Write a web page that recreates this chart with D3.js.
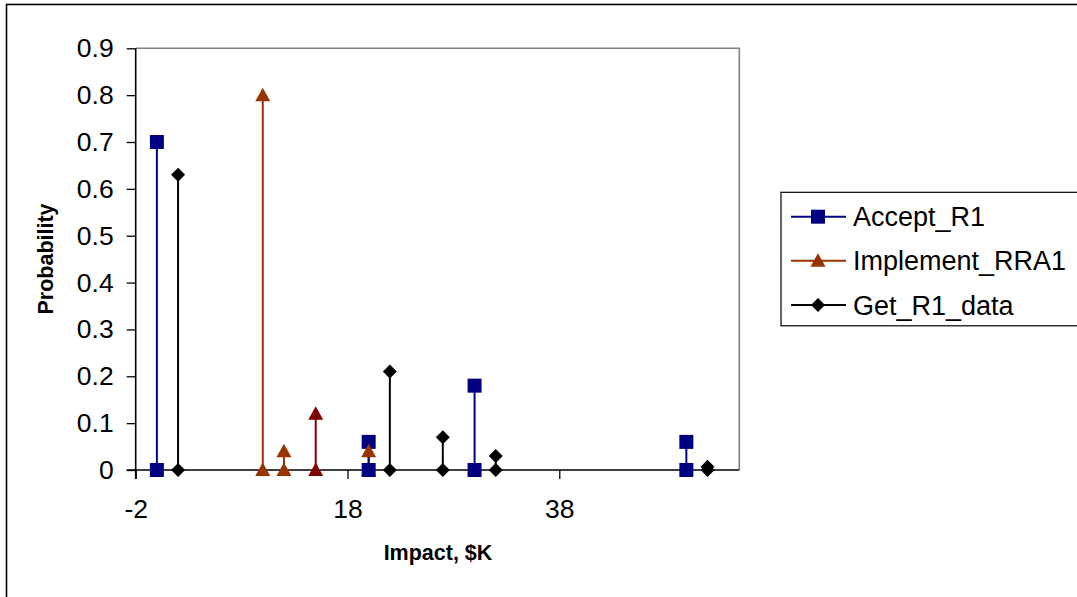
<!DOCTYPE html>
<html><head><meta charset="utf-8">
<script src="https://cdn.jsdelivr.net/npm/d3@7"></script>
<style>body{margin:0;background:#fff}svg{display:block}</style>
</head><body>
<svg id="c" width="1077" height="597"></svg>
<script>
// ---- data ----
const seriesNames = ["Accept_R1", "Implement_RRA1", "Get_R1_data"];
const acceptX = [0, 20, 30, 50];
const acceptP = [0.70, 0.06, 0.18, 0.06];
const implementX = [10, 12, 15, 20];
const implementP = [0.80, 0.04, 0.12, 0.04];
const getX = [2, 22, 27, 32, 52];
const getP = [0.63, 0.21, 0.07, 0.03, 0.007];
const xTicks = [-2, 18, 38];
const yTicks = [0, 0.1, 0.2, 0.3, 0.4, 0.5, 0.6, 0.7, 0.8, 0.9];

// ---- layout / style ----
const W = 1077, H = 597;
const plot = {l: 135.7, r: 739.3, t: 48.3, b: 470};
const colors = {Accept_R1: "#000080", Implement_RRA1: "#993300", Get_R1_data: "#000000"};
const darkRed = "#800000"; // point of Implement_RRA1 at x = 15 drawn in dark red
const font = "Arial, 'Liberation Sans', sans-serif";

const svg = d3.select("#c");
svg.append("rect").attr("x", 6.5).attr("y", 4.5).attr("width", W + 10).attr("height", H + 10)
  .attr("fill", "#fff").attr("stroke", "#000").attr("stroke-width", 1.6);

const x = d3.scaleLinear().domain([-2, 55]).range([plot.l, plot.r]);
const y = d3.scaleLinear().domain([0, 0.9]).range([plot.b, plot.t]);

// plot frame (top & right grey)
svg.append("path").attr("d", `M${plot.l},${plot.t}H${plot.r}V${plot.b}`)
  .attr("fill", "none").attr("stroke", "#808080").attr("stroke-width", 1.6);

// axes
const yAxis = d3.axisLeft(y).tickValues(yTicks).tickSize(9).tickPadding(13)
  .tickFormat(d => d === 0 ? "0" : d3.format(".1f")(d));
const gy = svg.append("g").attr("transform", `translate(${plot.l},0)`).call(yAxis);
const xAxis = d3.axisBottom(x).tickValues(xTicks).tickSize(9).tickPadding(20)
  .tickFormat(d => String(d).replace("\u2212", "-"));
const gx = svg.append("g").attr("transform", `translate(0,${plot.b})`).call(xAxis);
[gx, gy].forEach(g => {
  g.select(".domain").attr("stroke", "#000").attr("stroke-width", 1.6);
  g.selectAll(".tick line").attr("stroke", "#000").attr("stroke-width", 1.3);
  g.selectAll("text").attr("font-family", font).attr("font-size", 26.5).attr("fill", "#000");
});
gy.select(".domain").attr("d", `M0,${plot.b + 9}V${plot.t}`);
gx.select(".domain").attr("d", `M${plot.l - 9},0H${plot.r}`);

// axis titles
svg.append("text").attr("x", 438).attr("y", 560).attr("text-anchor", "middle")
  .attr("font-family", font).attr("font-weight", "bold").attr("font-size", 21.5).text("Impact, $K");
svg.append("text").attr("transform", "translate(53,259) rotate(-90)").attr("text-anchor", "middle")
  .attr("font-family", font).attr("font-weight", "bold").attr("font-size", 21.5).text("Probability");

// markers (custom shapes drawn via d3.path)
const shapes = {
  Accept_R1: () => { const p = d3.path(); p.rect(-7, -7, 14, 14); return p.toString(); },
  Implement_RRA1: () => { const p = d3.path(); p.moveTo(0, -7.5); p.lineTo(7.5, 6); p.lineTo(-7.5, 6); p.closePath(); return p.toString(); },
  Get_R1_data: () => { const p = d3.path(); p.moveTo(0, -7); p.lineTo(7, 0); p.lineTo(0, 7); p.lineTo(-7, 0); p.closePath(); return p.toString(); }
};
const series = [
  {name: "Accept_R1", xs: acceptX, ps: acceptP},
  {name: "Implement_RRA1", xs: implementX, ps: implementP},
  {name: "Get_R1_data", xs: getX, ps: getP}
];
const pts = s => s.xs.map((xv, i) => ({x: xv, p: s.ps[i], name: s.name,
  color: (s.name === "Implement_RRA1" && xv === 15) ? darkRed : colors[s.name]}));
const markerAt = (g, d, v) => g.append("path")
  .attr("d", shapes[d.name]())
  .attr("transform", `translate(${x(d.x)},${y(v)})`)
  .attr("fill", d.color);

const gStems = svg.append("g"), gZero = svg.append("g"), gTop = svg.append("g");
// stems: implement, get, accept order (accept on top)
[series[1], series[2], series[0]].forEach(s => pts(s).forEach(d => {
  gStems.append("line").attr("x1", x(d.x)).attr("x2", x(d.x)).attr("y1", y(0)).attr("y2", y(d.p))
    .attr("stroke", d.color).attr("stroke-width", 2);
}));
// zero markers
[series[1], series[2], series[0]].forEach(s => pts(s).forEach(d => markerAt(gZero, d, 0)));
// top markers
series.forEach(s => pts(s).forEach(d => markerAt(gTop, d, d.p)));

// legend
const lg = svg.append("g");
lg.append("rect").attr("x", 781).attr("y", 192.3).attr("width", 320).attr("height", 133.5)
  .attr("fill", "#fff").attr("stroke", "#000").attr("stroke-width", 1.2);
const rowY = [216.7, 260.7, 305];
seriesNames.forEach((n, i) => {
  lg.append("line").attr("x1", 791).attr("x2", 846).attr("y1", rowY[i]).attr("y2", rowY[i])
    .attr("stroke", colors[n]).attr("stroke-width", 2);
  lg.append("path").attr("d", shapes[n]())
    .attr("transform", `translate(818,${rowY[i]})`).attr("fill", colors[n]);
  lg.append("text").attr("x", 853).attr("y", rowY[i] + 9.5).attr("font-family", font)
    .attr("font-size", 27).attr("fill", "#000").text(n);
});
</script>
</body></html>
